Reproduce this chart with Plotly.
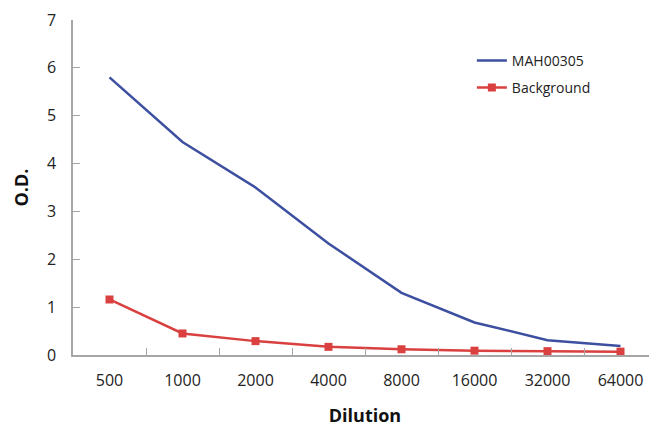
import plotly.graph_objects as go

dilutions = ["500", "1000", "2000", "4000", "8000", "16000", "32000", "64000"]
mah00305 = [5.80, 4.45, 3.50, 2.33, 1.30, 0.68, 0.31, 0.19]
background = [1.16, 0.45, 0.29, 0.17, 0.12, 0.09, 0.08, 0.07]

BLUE = "#3D4FA0"
RED = "#D9403F"
AXIS = "#A6A6A6"
FONT = "Open Sans"

fig = go.Figure()
fig.add_trace(go.Scatter(x=dilutions, y=mah00305, mode="lines", name="MAH00305",
                         line=dict(color=BLUE, width=2.5), legendgroup="a"))
fig.add_trace(go.Scatter(x=dilutions, y=background, mode="lines+markers", name="Background",
                         line=dict(color=RED, width=2.5),
                         marker=dict(symbol="square", size=8, color=RED), legendgroup="b"))

fig.update_layout(
    width=657, height=426,
    margin=dict(l=65, r=8, t=12, b=79, autoexpand=False),
    paper_bgcolor="white", plot_bgcolor="white",
    font=dict(family=FONT, size=14, color="#222222"),
    legend=dict(x=0.683, y=0.926, xanchor="left", yanchor="top",
                bgcolor="rgba(0,0,0,0)", font=dict(size=14, color="#222222"),
                tracegroupgap=6, itemwidth=30),
    xaxis=dict(type="category", range=[-0.5, 7.5], showline=True, linecolor=AXIS, linewidth=1.5,
               ticks="inside", tickson="boundaries", ticklen=7, tickcolor=AXIS,
               showgrid=False, zeroline=False, automargin=False, ticklabelstandoff=10,
               title=dict(text="<b>Dilution</b>", font=dict(size=18, color="#111111"), standoff=19),
               tickfont=dict(size=16, color="#222222")),
    yaxis=dict(range=[0, 7], dtick=1, showline=True, linecolor=AXIS, linewidth=1.5,
               ticks="inside", ticklen=7, tickcolor=AXIS, showgrid=False, zeroline=False,
               automargin=False, ticklabelstandoff=12,
               title=dict(text="<b>O.D.</b>", font=dict(size=18, color="#111111"), standoff=14),
               tickfont=dict(size=16, color="#222222")),
)

fig.write_html("out.html")
